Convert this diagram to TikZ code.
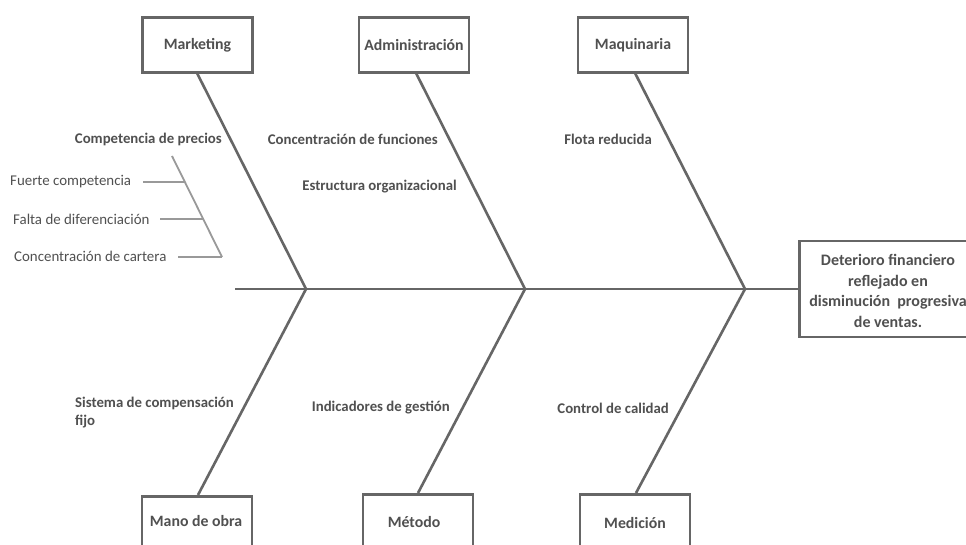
\documentclass[tikz,border=0pt]{standalone}
\usepackage{fontspec}
\setmainfont{Carlito}
\definecolor{linegray}{HTML}{666666}
\definecolor{subgray}{HTML}{999999}
\definecolor{textgray}{HTML}{505050}
\begin{document}
\begin{tikzpicture}[x=1pt,y=-1pt,
  catbox/.style={draw=linegray,line width=2.6pt,fill=white,minimum width=110pt,minimum height=55pt,inner sep=0pt,text=textgray,font=\fontsize{15.8}{19}\selectfont\bfseries},
  cattxt/.style={text=textgray,font=\fontsize{15.8}{19}\selectfont\bfseries,inner sep=0pt},
  bone/.style={draw=linegray,line width=2.6pt},
  subbone/.style={draw=subgray,line width=1.8pt},
  lab/.style={inner sep=0pt,text=textgray,font=\fontsize{14.8}{18}\selectfont\bfseries},
  sublab/.style={inner sep=0pt,text=textgray,font=\fontsize{14.9}{18}\selectfont}
]
\useasboundingbox (0,0) rectangle (966,545);
\clip (0,0) rectangle (966,545);
\fill[white] (0,0) rectangle (966,545);

% category boxes
\node[catbox] (mkt) at (197.5,45) {Marketing};
\node[catbox] (adm) at (414,45) {Administración};
\node[catbox] (maq) at (633,45) {Maquinaria};
\node[catbox,minimum height=70pt,anchor=north] (mo) at (197,495) {};
\node[catbox,minimum height=70pt,anchor=north] (met) at (418,493) {};
\node[catbox,minimum height=70pt,anchor=north] (med) at (635,493) {};
\node[cattxt] (motxt) at (196,521) {Mano de obra};
\node[cattxt] (mettxt) at (414,522) {Método};
\node[cattxt] (medtxt) at (635,523) {Medición};

% effect box
\node[draw=linegray,line width=2.6pt,fill=white,anchor=west,minimum width=180pt,minimum height=96pt,inner sep=0pt] (eff) at (798,289) {};
\node[align=center,text=textgray,font=\fontsize{16}{20.5}\selectfont\bfseries,inner sep=0pt] (efftxt) at (888,291) {Deterioro financiero\\reflejado en\\disminución\ \ progresiva\\de ventas.};

% junctions
\coordinate (tail) at (235,289);
\coordinate (j1) at (306,289);
\coordinate (j2) at (525,289);
\coordinate (j3) at (745,289);

% spine
\draw[bone] (tail) -- (eff.west);

% main bones
\draw[bone] (197,73) -- (j1);
\draw[bone] (416,73) -- (j2);
\draw[bone] (635,73) -- (j3);
\draw[bone] (j1) -- (198,495);
\draw[bone] (j2) -- (418,493);
\draw[bone] (j3) -- (636,493);

% cause labels
\node[lab,anchor=east] (cp) at (222,139) {Competencia de precios};
\node[lab,anchor=east] (cf) at (438,139) {Concentración de funciones};
\node[lab,anchor=east] (eo) at (457,187) {Estructura organizacional};
\node[lab,anchor=east] (fr) at (652,139) {Flota reducida};
\node[lab,anchor=west,align=left,font=\fontsize{14.8}{18}\selectfont\bfseries] (sc) at (75,413) {Sistema de compensación\\fijo};
\node[lab,anchor=east] (ig) at (450,408) {Indicadores de gestión};
\node[lab,anchor=east] (cc) at (669,408) {Control de calidad};

% sub-causes
\node[sublab,anchor=west] (fc) at (10,182) {Fuerte competencia};
\node[sublab,anchor=west] (fd) at (13,219) {Falta de diferenciación};
\node[sublab,anchor=west] (ccart) at (14,256) {Concentración de cartera};
\coordinate (s0) at (172,156);
\coordinate (s1) at (185,182);
\coordinate (s2) at (203,219);
\coordinate (s3) at (222,257);
\draw[subbone] (s0) -- (s3);
\draw[subbone] (143,182) -- (s1);
\draw[subbone] (160,219) -- (s2);
\draw[subbone] (178,257) -- (s3);
\end{tikzpicture}
\end{document}
